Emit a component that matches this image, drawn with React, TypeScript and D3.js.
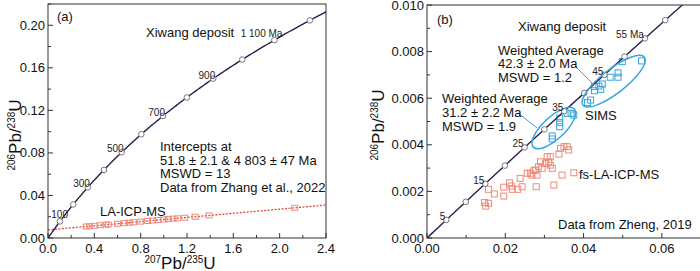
import React from "react";
import * as d3 from "d3";

// decay constants (per year)
const L238 = 1.55125e-10;
const L235 = 9.8485e-10;

// panel (a)
const agesA = [100, 200, 300, 400, 500, 600, 700, 800, 900, 1000, 1100, 1200];
const labelsA = [100, 300, 500, 700, 900, 1100];
const interceptsA = [51.8, 4803];
const laX = [0.33, 0.36, 0.4, 0.45, 0.5, 0.52, 0.6, 0.66, 0.7, 0.74, 0.8, 0.86, 0.9, 0.95, 1.0, 1.04, 1.08, 1.12, 1.18, 1.27, 1.39, 2.13];
const laY = [0.0108, 0.0111, 0.0115, 0.012, 0.0125, 0.0127, 0.0134, 0.014, 0.0144, 0.0148, 0.0154, 0.016, 0.0164, 0.0169, 0.0174, 0.0178, 0.0182, 0.0185, 0.0191, 0.02, 0.0212, 0.0284];
const xTicksA = [0, 0.4, 0.8, 1.2, 1.6, 2.0, 2.4];
const yTicksA = [0, 0.04, 0.08, 0.12, 0.16, 0.2];

// panel (b)
const agesB = [5, 10, 15, 20, 25, 30, 35, 40, 45, 50, 55, 60];
const labelsB = [5, 15, 25, 35, 45, 55];
const fsX = [0.015, 0.0147, 0.0157, 0.0157, 0.0172, 0.0196, 0.0196, 0.0211, 0.0215, 0.0218, 0.0232, 0.0238, 0.0243, 0.0256, 0.0264, 0.0268, 0.0273, 0.0277, 0.0281, 0.0279, 0.0285, 0.029, 0.0294, 0.0303, 0.0307, 0.0311, 0.0315, 0.032, 0.0315, 0.0324, 0.0337, 0.0341, 0.035, 0.0358, 0.0362, 0.0345, 0.0375];
const fsY = [0.00137, 0.00152, 0.00149, 0.00209, 0.00189, 0.00218, 0.0018, 0.00237, 0.00223, 0.00209, 0.00209, 0.00256, 0.0022, 0.00278, 0.00278, 0.0027, 0.00289, 0.00292, 0.0027, 0.0022, 0.00306, 0.00327, 0.00299, 0.0032, 0.00349, 0.00327, 0.00313, 0.00299, 0.00349, 0.00227, 0.0036, 0.00385, 0.00392, 0.00392, 0.00378, 0.0027, 0.0028];
const simsX = [0.0499, 0.0548, 0.0488, 0.0488, 0.0468, 0.0448, 0.0439, 0.0444, 0.0428, 0.0428, 0.0418, 0.041, 0.0358, 0.0368, 0.0375, 0.0339, 0.0339, 0.0339, 0.032, 0.032];
const simsY = [0.00757, 0.0076, 0.00709, 0.0069, 0.0069, 0.00661, 0.00652, 0.00638, 0.00632, 0.0065, 0.00592, 0.00581, 0.00535, 0.00535, 0.00528, 0.00514, 0.00495, 0.00478, 0.00438, 0.00425];
const wAges = [42.3, 31.2];
const ellipseCx = [0.0477, 0.0324];
const ellipseCy = [0.00673, 0.00472];
const xTicksB = [0, 0.02, 0.04, 0.06];
const yTicksB = [0, 0.002, 0.004, 0.006, 0.008, 0.01];

const conc = (t: number) => [Math.exp(L235 * t * 1e6) - 1, Math.exp(L238 * t * 1e6) - 1];

const FONT = "'Liberation Sans', Arial, sans-serif";
const LINE = "#2d1b4e";
const RED = "#f08a78";
const REDLINE = "#e8453a";
const BLUE = "#33a7de";

const xa = d3.scaleLinear().domain([0, 2.4]).range([48, 326]);
const ya = d3.scaleLinear().domain([0, 0.22]).range([238, 4]);
const xb = d3.scaleLinear().domain([0, 0.07]).range([427, 701]);
const yb = d3.scaleLinear().domain([0, 0.01]).range([238, 5]);

function Axes({ x, y, xt, yt, xMinor, yMinor, xFmt, yFmt }: any) {
  const [x0, x1] = x.range();
  const [y0, y1] = y.range();
  return (
    <g fontFamily={FONT} fontSize={13} fill="#111">
      {xMinor.map((v: number, i: number) => (
        <line key={"xm" + i} x1={x(v)} x2={x(v)} y1={y0} y2={y0 - 3} stroke="#333" />
      ))}
      {yMinor.map((v: number, i: number) => (
        <line key={"ym" + i} x1={x0} x2={x0 + 3} y1={y(v)} y2={y(v)} stroke="#333" />
      ))}
      {xt.map((v: number, i: number) => (
        <g key={"xt" + i}>
          <line x1={x(v)} x2={x(v)} y1={y0} y2={y0 - 5} stroke="#333" />
          <text x={x(v)} y={y0 + 15} textAnchor="middle">{xFmt(v)}</text>
        </g>
      ))}
      {yt.map((v: number, i: number) => (
        <g key={"yt" + i}>
          <line x1={x0} x2={x0 + 5} y1={y(v)} y2={y(v)} stroke="#333" />
          <text x={x0 - 3} y={y(v) + 4.5} textAnchor="end">{yFmt(v)}</text>
        </g>
      ))}
      <rect x={x0} y={y1} width={x1 - x0} height={y0 - y1} fill="none" stroke="#333" strokeWidth={1} />
    </g>
  );
}

function YLabel({ x, y }: { x: number; y: number }) {
  return (
    <text transform={`translate(${x},${y}) rotate(-90)`} textAnchor="middle" fontFamily={FONT} fontSize={17} fill="#111">
      <tspan fontSize={10} dy={-6}>206</tspan>
      <tspan dy={6}>Pb/</tspan>
      <tspan fontSize={10} dy={-6}>238</tspan>
      <tspan dy={6}>U</tspan>
    </text>
  );
}

export default function App() {
  const line = d3.line<number[]>();
  const curveA = line(d3.range(0, 1260, 5).map(t => { const p = conc(t); return [xa(p[0]), ya(p[1])]; }));
  const curveB = line(d3.range(0, 66, 1).map(t => { const p = conc(t); return [xb(p[0]), yb(p[1])]; }));
  const [i1, i2] = interceptsA.map(conc);
  const slope = (i2[1] - i1[1]) / (i2[0] - i1[0]);
  const disc = (xv: number) => i1[1] + slope * (xv - i1[0]);

  const fmtA = d3.format(".1f");
  const fmtYA = d3.format(".2f");
  const fmtXB = d3.format(".2f");
  const fmtYB = d3.format(".3f");

  const w1 = conc(wAges[0]);
  const w2 = conc(wAges[1]);

  return (
    <svg width={700} height={271} style={{ position: "absolute", left: 0, top: 0, background: "#fff" }}>
      <defs>
        <clipPath id="ca"><rect x={48} y={4} width={278} height={234} /></clipPath>
        <clipPath id="cb"><rect x={427} y={5} width={274} height={233} /></clipPath>
      </defs>

      {/* panel a */}
      <g clipPath="url(#ca)">
        <line x1={xa(0)} y1={ya(disc(0))} x2={xa(2.4)} y2={ya(disc(2.4))} stroke={REDLINE} strokeWidth={1.3} strokeDasharray="2,1.5" />
        {laX.map((v, i) => (
          <rect key={i} x={xa(v) - 3} y={ya(laY[i]) - 2.5} width={6} height={5} fill="none" stroke={RED} strokeWidth={1} />
        ))}
        <path d={curveA || ""} fill="none" stroke={LINE} strokeWidth={1.4} />
        {agesA.map(t => { const p = conc(t); return <circle key={t} cx={xa(p[0])} cy={ya(p[1])} r={2.8} fill="#fff" stroke="#777" strokeWidth={1} />; })}
      </g>
      <g fontFamily={FONT} fontSize={10} fill="#222">
        {labelsA.map(t => {
          const p = conc(t);
          const edge = t === 100 || t === 1100;
          return (
            <text key={t} x={xa(p[0]) + (edge ? 8 : 2)} y={ya(p[1]) - (edge ? 3 : 0)} textAnchor="end">{t === 1100 ? "1 100 Ma" : t}</text>
          );
        })}
      </g>
      <Axes x={xa} y={ya} xt={xTicksA} yt={yTicksA} xMinor={d3.range(0.2, 2.4, 0.4)} yMinor={d3.range(0.02, 0.23, 0.04)} xFmt={fmtA} yFmt={fmtYA} />
      <g fontFamily={FONT} fontSize={13} fill="#111">
        <text x={57} y={21}>(a)</text>
        <text x={146} y={37}>Xiwang deposit</text>
        <text x={160} y={151}>Intercepts at</text>
        <text x={160} y={165}>51.8 ± 2.1 &amp; 4 803 ± 47 Ma</text>
        <text x={160} y={178}>MSWD = 13</text>
        <text x={160} y={192}>Data from Zhang et al., 2022</text>
        <text x={100} y={216}>LA-ICP-MS</text>
      </g>
      <YLabel x={21} y={135} />
      <text x={180} y={269} textAnchor="middle" fontFamily={FONT} fontSize={17} fill="#111">
        <tspan fontSize={10} dy={-6}>207</tspan>
        <tspan dy={6}>Pb/</tspan>
        <tspan fontSize={10} dy={-6}>235</tspan>
        <tspan dy={6}>U</tspan>
      </text>

      {/* panel b */}
      <g clipPath="url(#cb)">
        {fsX.map((v, i) => (
          <rect key={i} x={xb(v) - 3} y={yb(fsY[i]) - 3} width={6} height={6} fill="none" stroke={RED} strokeWidth={1} />
        ))}
        {simsX.map((v, i) => (
          <rect key={i} x={xb(v) - 3} y={yb(simsY[i]) - 3} width={6} height={6} fill="none" stroke={BLUE} strokeWidth={1} />
        ))}
        <path d={curveB || ""} fill="none" stroke={LINE} strokeWidth={1.4} />
        {agesB.map(t => { const p = conc(t); return <circle key={t} cx={xb(p[0])} cy={yb(p[1])} r={2.8} fill="#fff" stroke="#777" strokeWidth={1} />; })}
        <ellipse cx={xb(ellipseCx[0])} cy={yb(ellipseCy[0])} rx={39} ry={12} fill="none" stroke={BLUE} strokeWidth={1.5}
          transform={`rotate(-38 ${xb(ellipseCx[0])} ${yb(ellipseCy[0])})`} />
        <ellipse cx={xb(ellipseCx[1])} cy={yb(ellipseCy[1])} rx={28} ry={11} fill="none" stroke={BLUE} strokeWidth={1.5}
          transform={`rotate(-43 ${xb(ellipseCx[1])} ${yb(ellipseCy[1])})`} />
        <line x1={575} y1={66} x2={xb(w1[0])} y2={yb(w1[1])} stroke={BLUE} strokeWidth={1} />
        <line x1={518} y1={113} x2={xb(w2[0]) - 12} y2={yb(w2[1]) + 3} stroke={BLUE} strokeWidth={1} />
      </g>
      <g fontFamily={FONT} fontSize={10} fill="#222">
        {labelsB.map(t => { const p = conc(t); return (
          <text key={t} x={xb(p[0]) - 1} y={yb(p[1])} textAnchor="end">{t === 55 ? "55 Ma" : t}</text>
        ); })}
      </g>
      <Axes x={xb} y={yb} xt={xTicksB} yt={yTicksB} xMinor={[0.01, 0.03, 0.05]} yMinor={d3.range(0.001, 0.0101, 0.002)} xFmt={fmtXB} yFmt={fmtYB} />
      <g fontFamily={FONT} fontSize={13} fill="#111">
        <text x={437} y={24}>(b)</text>
        <text x={518} y={31}>Xiwang deposit</text>
        <text x={498} y={55}>Weighted Average</text>
        <text x={498} y={68}>42.3 ± 2.0 Ma</text>
        <text x={498} y={82}>MSWD = 1.2</text>
        <text x={442} y={103}>Weighted Average</text>
        <text x={442} y={117}>31.2 ± 2.2 Ma</text>
        <text x={442} y={131}>MSWD = 1.9</text>
        <text x={585} y={120}>SIMS</text>
        <text x={579} y={179}>fs-LA-ICP-MS</text>
        <text x={558} y={229}>Data from Zheng, 2019</text>
      </g>
      <YLabel x={384} y={125} />
    </svg>
  );
}
